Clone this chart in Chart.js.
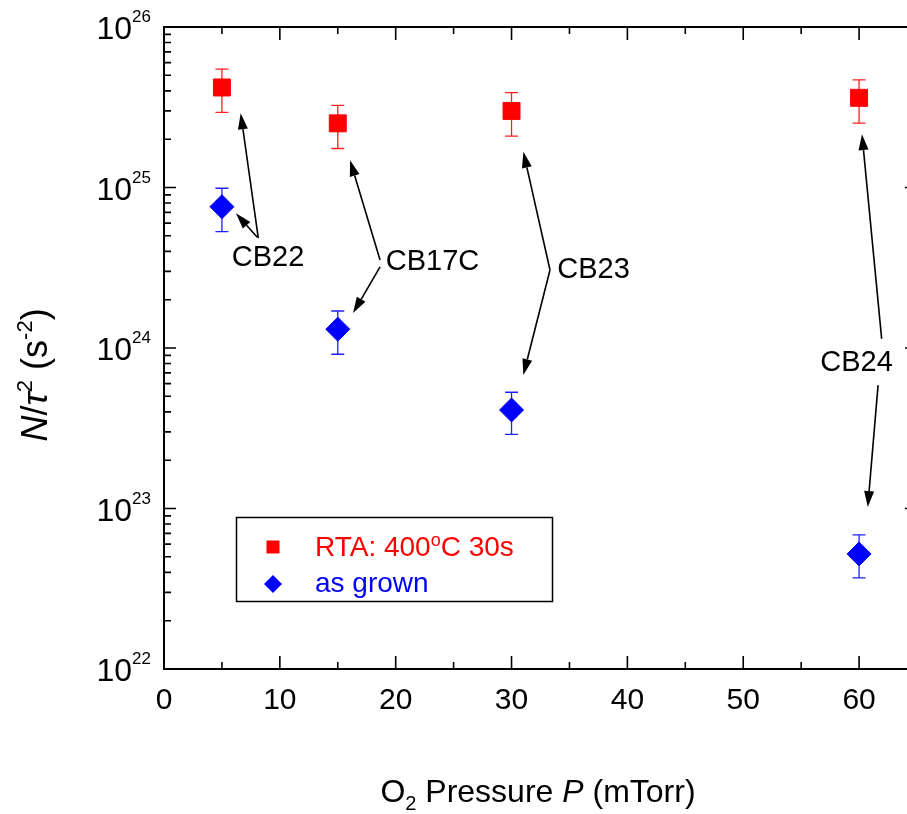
<!DOCTYPE html>
<html>
<head>
<meta charset="utf-8">
<script src="https://cdn.jsdelivr.net/npm/chart.js@4/dist/chart.umd.min.js"></script>
<style>
  html, body { margin: 0; padding: 0; background: #fff; overflow: hidden; }
  #nChart { display: block; }
</style>
</head>
<body>
<canvas id="nChart" width="920" height="814"></canvas>
<script>
// O2 pressure (mTorr)
var pressures = [ 5, 15, 30, 60 ]

// N/tau^2 (s^-2), after RTA 400oC 30s
var rtaValues = [ 4.20e25, 2.51e25, 3.00e25, 3.62e25 ]
var rtaLow = [ 2.94e25, 1.75e25, 2.09e25, 2.52e25 ]
var rtaHigh = [ 5.47e25, 3.25e25, 3.90e25, 4.68e25 ]

// N/tau^2 (s^-2), as grown
var grownValues = [ 7.59e24, 1.31e24, 4.11e23, 5.21e22 ]
var grownLow = [ 5.31e24, 9.14e23, 2.90e23, 3.70e22 ]
var grownHigh = [ 9.89e24, 1.70e24, 5.30e23, 6.85e22 ]

var seriesNames = [ 'RTA: 400^{o}C 30s', 'as grown' ]
var xTickLabels = [ 0, 10, 20, 30, 40, 50, 60 ]
var yExponents = [ 22, 23, 24, 25, 26 ]

// sample labels and arrows, anchored in data units [x, y]
var sampleNames = [ 'CB22', 'CB17C', 'CB23', 'CB24' ]
var sampleLabelAt = [ [ 8.98, 3.64e24 ], [ 23.18, 3.44e24 ], [ 37.08, 3.06e24 ], [ 59.78, 8.09e23 ] ]
var sampleArrows = [
  [ [ 8.14, 4.83e24, 6.62, 2.90e25 ], [ 8.05, 4.90e24, 6.21, 6.91e24 ] ],
  [ [ 18.65, 3.53e24, 16.06, 1.48e25 ], [ 18.65, 3.20e24, 16.32, 1.65e24 ] ],
  [ [ 33.32, 3.06e24, 31.02, 1.67e25 ], [ 33.32, 3.06e24, 31.02, 6.79e23 ] ],
  [ [ 61.95, 1.14e24, 60.25, 2.15e25 ], [ 61.64, 5.87e23, 60.75, 1.02e23 ] ]
]

var FONT = '"Liberation Sans", Arial, sans-serif'

function toPoints (xs, ys) {
  return xs.map(function (x, i) { return { x: x, y: ys[i] } })
}

function richParts (str) {
  var parts = []
  var re = /\^\{([^}]*)\}|_\{([^}]*)\}|\*([^*]*)\*|([^^_*]+)/g
  var m
  while ((m = re.exec(str))) {
    if (m[1] != null) parts.push({ t: m[1], kind: 'sup' })
    else if (m[2] != null) parts.push({ t: m[2], kind: 'sub' })
    else if (m[3] != null) parts.push({ t: m[3], kind: 'it' })
    else parts.push({ t: m[4], kind: 'n' })
  }
  return parts
}

function drawRich (ctx, str, x, y, size, align, supScale, supShift) {
  supScale = supScale || 0.62
  supShift = supShift || 0.4
  var parts = richParts(str)
  var fontOf = function (p) {
    var s = (p.kind === 'sup' || p.kind === 'sub') ? Math.round(size * supScale) : size
    return (p.kind === 'it' ? 'italic ' : '') + s + 'px ' + FONT
  }
  var w = 0
  parts.forEach(function (p) {
    ctx.font = fontOf(p)
    p.w = ctx.measureText(p.t).width
    w += p.w
  })
  var cx = align === 'center' ? x - w / 2 : (align === 'right' ? x - w : x)
  ctx.textAlign = 'left'
  ctx.textBaseline = 'alphabetic'
  parts.forEach(function (p) {
    ctx.font = fontOf(p)
    var dy = p.kind === 'sup' ? -size * supShift : (p.kind === 'sub' ? size * 0.25 : 0)
    ctx.fillText(p.t, cx, y + dy)
    cx += p.w
  })
}

function arrow (ctx, x1, y1, x2, y2) {
  var ang = Math.atan2(y2 - y1, x2 - x1)
  var len = 16
  var hw = 5
  var bx = x2 - Math.cos(ang) * len
  var by = y2 - Math.sin(ang) * len
  ctx.beginPath()
  ctx.moveTo(x1, y1)
  ctx.lineTo(bx, by)
  ctx.stroke()
  ctx.beginPath()
  ctx.moveTo(x2, y2)
  ctx.lineTo(bx - Math.sin(ang) * hw, by + Math.cos(ang) * hw)
  ctx.lineTo(bx + Math.sin(ang) * hw, by - Math.cos(ang) * hw)
  ctx.closePath()
  ctx.fill()
}

var errorBars = {
  id: 'errorBars',
  beforeDatasetsDraw: function (chart) {
    var ctx = chart.ctx
    var xs = chart.scales.x
    var ys = chart.scales.y
    var sets = [ [ rtaLow, rtaHigh, '#ff2020' ], [ grownLow, grownHigh, '#2020ff' ] ]
    ctx.save()
    ctx.lineWidth = 1.3
    sets.forEach(function (s) {
      ctx.strokeStyle = s[2]
      pressures.forEach(function (p, i) {
        var px = xs.getPixelForValue(p)
        var lo = ys.getPixelForValue(s[0][i])
        var hi = ys.getPixelForValue(s[1][i])
        ctx.beginPath()
        ctx.moveTo(px, lo); ctx.lineTo(px, hi)
        ctx.moveTo(px - 6.5, lo); ctx.lineTo(px + 6.5, lo)
        ctx.moveTo(px - 6.5, hi); ctx.lineTo(px + 6.5, hi)
        ctx.stroke()
      })
    })
    ctx.restore()
  }
}

var frameAndText = {
  id: 'frameAndText',
  afterDraw: function (chart) {
    var ctx = chart.ctx
    var a = chart.chartArea
    var xs = chart.scales.x
    var ys = chart.scales.y
    ctx.save()
    ctx.strokeStyle = '#000'
    ctx.fillStyle = '#000'

    // frame (right edge falls just past the visible window, as in the original crop)
    ctx.lineWidth = 2
    ctx.strokeRect(a.left, a.top, a.right - a.left, a.bottom - a.top)

    // x ticks, bottom and top, pointing in
    ctx.lineWidth = 1.6
    for (var v = 5; v < xs.max; v += 5) {
      var px = xs.getPixelForValue(v)
      var len = v % 10 === 0 ? 13 : 7
      ctx.beginPath()
      ctx.moveTo(px, a.bottom); ctx.lineTo(px, a.bottom - len)
      ctx.moveTo(px, a.top); ctx.lineTo(px, a.top + len)
      ctx.stroke()
    }

    // y ticks, left and right, pointing in
    yExponents.forEach(function (e, k) {
      for (var m = 1; m <= 9; m++) {
        if (m > 1 && k === yExponents.length - 1) break
        var py = ys.getPixelForValue(m * Math.pow(10, e))
        var len = m === 1 ? 12 : 7
        ctx.beginPath()
        ctx.moveTo(a.left, py); ctx.lineTo(a.left + len, py)
        ctx.moveTo(a.right, py); ctx.lineTo(a.right - len, py)
        ctx.stroke()
      }
    })

    // x tick labels
    ctx.font = '30px ' + FONT
    ctx.textAlign = 'center'
    ctx.textBaseline = 'alphabetic'
    xTickLabels.forEach(function (t) {
      ctx.fillText(String(t), xs.getPixelForValue(t), a.bottom + 40)
    })

    // y tick labels 10^n
    yExponents.forEach(function (e) {
      var py = ys.getPixelForValue(Math.pow(10, e))
      ctx.font = '32px ' + FONT
      ctx.textAlign = 'right'
      ctx.fillText('10', 132, py + 12)
      ctx.font = '17px ' + FONT
      ctx.textAlign = 'left'
      ctx.fillText(String(e), 132, py - 5)
    })

    // axis titles
    drawRich(ctx, 'O_{2} Pressure *P* (mTorr)', 538, 802, 32, 'center', 0.62, 0.4)
    ctx.save()
    ctx.translate(47, 375)
    ctx.rotate(-Math.PI / 2)
    drawRich(ctx, '*N*/*\u03c4*^{2} (s^{-2})', 0, 0, 36, 'center', 0.62, 0.42)
    ctx.restore()

    // sample labels and arrows
    ctx.lineWidth = 1.6
    sampleNames.forEach(function (name, i) {
      var at = sampleLabelAt[i]
      ctx.font = '29px ' + FONT
      ctx.textAlign = 'center'
      ctx.textBaseline = 'middle'
      ctx.fillText(name, xs.getPixelForValue(at[0]), ys.getPixelForValue(at[1]))
      sampleArrows[i].forEach(function (r) {
        arrow(ctx, xs.getPixelForValue(r[0]), ys.getPixelForValue(r[1]),
          xs.getPixelForValue(r[2]), ys.getPixelForValue(r[3]))
      })
    })

    // legend box
    ctx.lineWidth = 1.5
    ctx.strokeRect(236.5, 517.5, 316, 84)
    var dsets = chart.data.datasets
    ctx.fillStyle = dsets[0].backgroundColor
    ctx.fillRect(266.5, 540.5, 13, 13)
    ctx.fillStyle = dsets[1].backgroundColor
    ctx.beginPath()
    ctx.moveTo(273, 575); ctx.lineTo(282, 584); ctx.lineTo(273, 593); ctx.lineTo(264, 584)
    ctx.closePath()
    ctx.fill()
    ctx.fillStyle = dsets[0].backgroundColor
    drawRich(ctx, seriesNames[0], 315, 556, 28, 'left', 0.66, 0.34)
    ctx.fillStyle = dsets[1].backgroundColor
    drawRich(ctx, seriesNames[1], 315, 592, 28, 'left')

    ctx.restore()
  }
}

var rtaData = {
  label: 'RTA: 400\u00b0C 30s',
  data: toPoints(pressures, rtaValues),
  showLine: false,
  pointStyle: 'rect',
  pointRadius: 12,
  pointBorderWidth: 1,
  borderColor: '#ff0000',
  backgroundColor: '#ff0000'
}

var grownData = {
  label: 'as grown',
  data: toPoints(pressures, grownValues),
  showLine: false,
  pointStyle: 'rectRot',
  pointRadius: 12,
  pointBorderWidth: 1,
  borderColor: '#0000ff',
  backgroundColor: '#0000ff'
}

var chart = new Chart(document.getElementById('nChart'), {
  type: 'scatter',
  data: { datasets: [ rtaData, grownData ] },
  options: {
    responsive: false,
    animation: false,
    devicePixelRatio: 1,
    layout: { autoPadding: false, padding: { top: 27, right: 3, left: 0, bottom: 0 } },
    plugins: { legend: { display: false }, tooltip: { enabled: false } },
    scales: {
      x: {
        type: 'linear',
        min: 0,
        max: 65,
        ticks: { display: false, stepSize: 5 },
        grid: { display: false },
        border: { display: false },
        afterFit: function (s) {
          s.height = 145
          s.paddingLeft = 0
          s.paddingRight = 0
        }
      },
      y: {
        type: 'logarithmic',
        min: 1e22,
        max: 1e26,
        ticks: { display: false },
        grid: { display: false },
        border: { display: false },
        afterFit: function (s) {
          s.width = 164
          s.paddingTop = 0
          s.paddingBottom = 0
        }
      }
    }
  },
  plugins: [ errorBars, frameAndText ]
})
</script>
</body>
</html>
